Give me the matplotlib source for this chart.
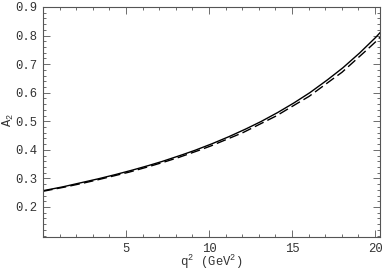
import numpy as np
import matplotlib
matplotlib.use("Agg")
import matplotlib.pyplot as plt
from matplotlib.ticker import MultipleLocator

# q^2 values (GeV^2) and the two A2 curves
q2 = [0, 1, 2, 3, 4, 5, 6, 7, 8, 9, 10, 11, 12, 13, 14, 15, 16, 17, 18, 19, 20, 20.3]
a2_solid = [0.257, 0.268, 0.281, 0.294, 0.308, 0.323, 0.339, 0.356, 0.375, 0.395, 0.417,
            0.441, 0.467, 0.495, 0.526, 0.560, 0.597, 0.639, 0.684, 0.735, 0.791, 0.810]
a2_dashed = [0.255, 0.266, 0.278, 0.291, 0.305, 0.319, 0.335, 0.352, 0.370, 0.390, 0.411,
             0.435, 0.459, 0.488, 0.517, 0.552, 0.586, 0.629, 0.671, 0.723, 0.776, 0.794]

xticks = [5, 10, 15, 20]
yticks = [0.2, 0.3, 0.4, 0.5, 0.6, 0.7, 0.8, 0.9]

plt.rcParams['font.family'] = ['Liberation Mono', 'DejaVu Sans Mono']
plt.rcParams['mathtext.fontset'] = 'custom'
plt.rcParams['mathtext.rm'] = 'Liberation Mono'
plt.rcParams['mathtext.it'] = 'Liberation Mono'

fig = plt.figure(figsize=(3.82, 2.73), dpi=100)
ax = fig.add_axes([0.1126, 0.1319, 0.8822, 0.8425])

xs = np.linspace(q2[0], q2[-1], 400)
ax.plot(xs, np.interp(xs, q2, a2_solid), color='black', lw=1.0)
ax.plot(xs, np.interp(xs, q2, a2_dashed), color='black', lw=1.0, dashes=(7, 3))

ax.set_xlim(0, 20.3)
ax.set_ylim(0.095, 0.9)
ax.set_xticks(xticks)
ax.set_yticks(yticks)
ax.set_yticklabels([f"{v:.1f}" for v in yticks])
ax.xaxis.set_minor_locator(MultipleLocator(1))
ax.yaxis.set_minor_locator(MultipleLocator(0.02))

frame_col = '#555555'
txt_col = '#333333'
for s in ax.spines.values():
    s.set_color(frame_col)
    s.set_linewidth(0.8)
ax.tick_params(which='both', direction='in', top=True, right=True,
               colors=frame_col, labelcolor=txt_col, labelsize=8.8, width=0.6)
ax.tick_params(which='major', length=5, pad=4)
ax.tick_params(which='minor', length=2.5)

fig.text(0.552, 0.04, r"q$^2$ (GeV$^2$)", fontsize=8.8, color=txt_col,
         ha='center', va='center')
fig.text(0.022, 0.56, r"A$_2$", fontsize=8.8, color=txt_col,
         ha='center', va='center', rotation=90)

fig.savefig("out.png", dpi=100)
